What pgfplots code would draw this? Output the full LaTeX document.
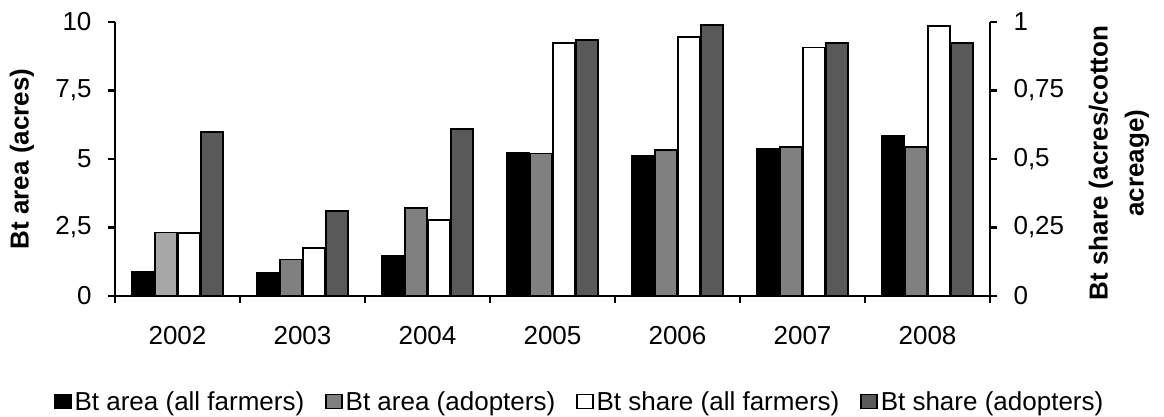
\documentclass[border=0pt]{standalone}
\usepackage{pgfplots}
\pgfplotsset{compat=1.18}
\usepackage{fontspec}
\setmainfont{Liberation Sans}
\definecolor{gA}{HTML}{808080}
\definecolor{gL}{HTML}{A6A6A6}
\definecolor{gD}{HTML}{595959}
\pgfplotsset{
 common/.style={
  scale only axis, width=875pt, height=274pt, at={(0,0)}, anchor=south west,
  xmin=-0.5, xmax=6.5, ymin=0,
  ybar, bar width=22.5pt,
  tick align=outside, major tick length=7pt, minor tick length=7pt,
  tick style={black, line width=2.4pt},
  axis line style={line width=2.4pt},
  tick label style={font=\fontsize{26}{30}\selectfont},
  /pgf/number format/assume math mode=true,
  /pgf/number format/use comma,
  every axis plot/.append style={draw=black, line width=1.8pt},
 },
 sqlegend/.style={legend image code/.code={\draw[##1, line width=1.4pt, draw=black] (0pt,-7pt) rectangle (16pt,7pt);}},
}
\begin{document}
\begin{tikzpicture}
\useasboundingbox (-115pt,-120pt) rectangle (1049pt,296pt);
\begin{axis}[common, ymax=10,
  axis y line*=left, axis x line*=bottom,
  ytick={0,2.5,5,7.5,10},
  xtick={0,1,2,3,4,5,6},
  xticklabels={2002,2003,2004,2005,2006,2007,2008},
  minor xtick={-0.5,0.5,1.5,2.5,3.5,4.5,5.5,6.5},
  major x tick style={draw=none},
  x tick label style={yshift=-20pt},
  y tick label style={xshift=-13pt},
  ylabel={Bt area (acres)},
  every axis y label/.style={at={(axis description cs:0,0.5)}, xshift=-93pt, rotate=90, anchor=center,
    font=\fontsize{26}{30}\selectfont\bfseries},
]
\addplot[fill=black, bar shift=-34.5pt] coordinates {(0,0.89) (1,0.83) (2,1.47) (3,5.21) (4,5.13) (5,5.38) (6,5.84)};
\addplot[fill=gL, bar shift=-11.5pt] coordinates {(0,2.32)};
\addplot[fill=gA, bar shift=-11.5pt] coordinates {(1,1.33) (2,3.22) (3,5.20) (4,5.33) (5,5.45) (6,5.45)};
\end{axis}
\begin{axis}[common, ymax=1,
  axis y line*=right, axis x line=none,
  ytick={0,0.25,0.5,0.75,1},
  y tick label style={xshift=13pt},
  ylabel={Bt share (acres/cotton\\acreage)},
  every axis y label/.style={at={(axis description cs:1,0.5)}, xshift=129pt, yshift=-4pt, rotate=90, anchor=center,
    font=\fontsize{26}{36}\selectfont\bfseries, align=center},
  legend style={at={(0.53,-0.385)}, anchor=center, draw=none, legend columns=4,
    font=\fontsize{26}{30}\selectfont, nodes={inner xsep=0pt},
    /tikz/every odd column/.append style={column sep=3pt},
    /tikz/every even column/.append style={column sep=21pt}},
  legend cell align=left,
]
\addlegendimage{sqlegend, fill=black}
\addlegendimage{sqlegend, fill=gA}
\addlegendimage{sqlegend, fill=white}
\addlegendimage{sqlegend, fill=gD}
\addplot[fill=white, bar shift=11.5pt] coordinates {(0,0.229) (1,0.176) (2,0.277) (3,0.922) (4,0.946) (5,0.907) (6,0.985)};
\addplot[fill=gD, bar shift=34.5pt] coordinates {(0,0.60) (1,0.31) (2,0.61) (3,0.934) (4,0.988) (5,0.922) (6,0.922)};
\legend{Bt area (all farmers),Bt area (adopters),Bt share (all farmers),Bt share (adopters)}
\end{axis}
\end{tikzpicture}
\end{document}
